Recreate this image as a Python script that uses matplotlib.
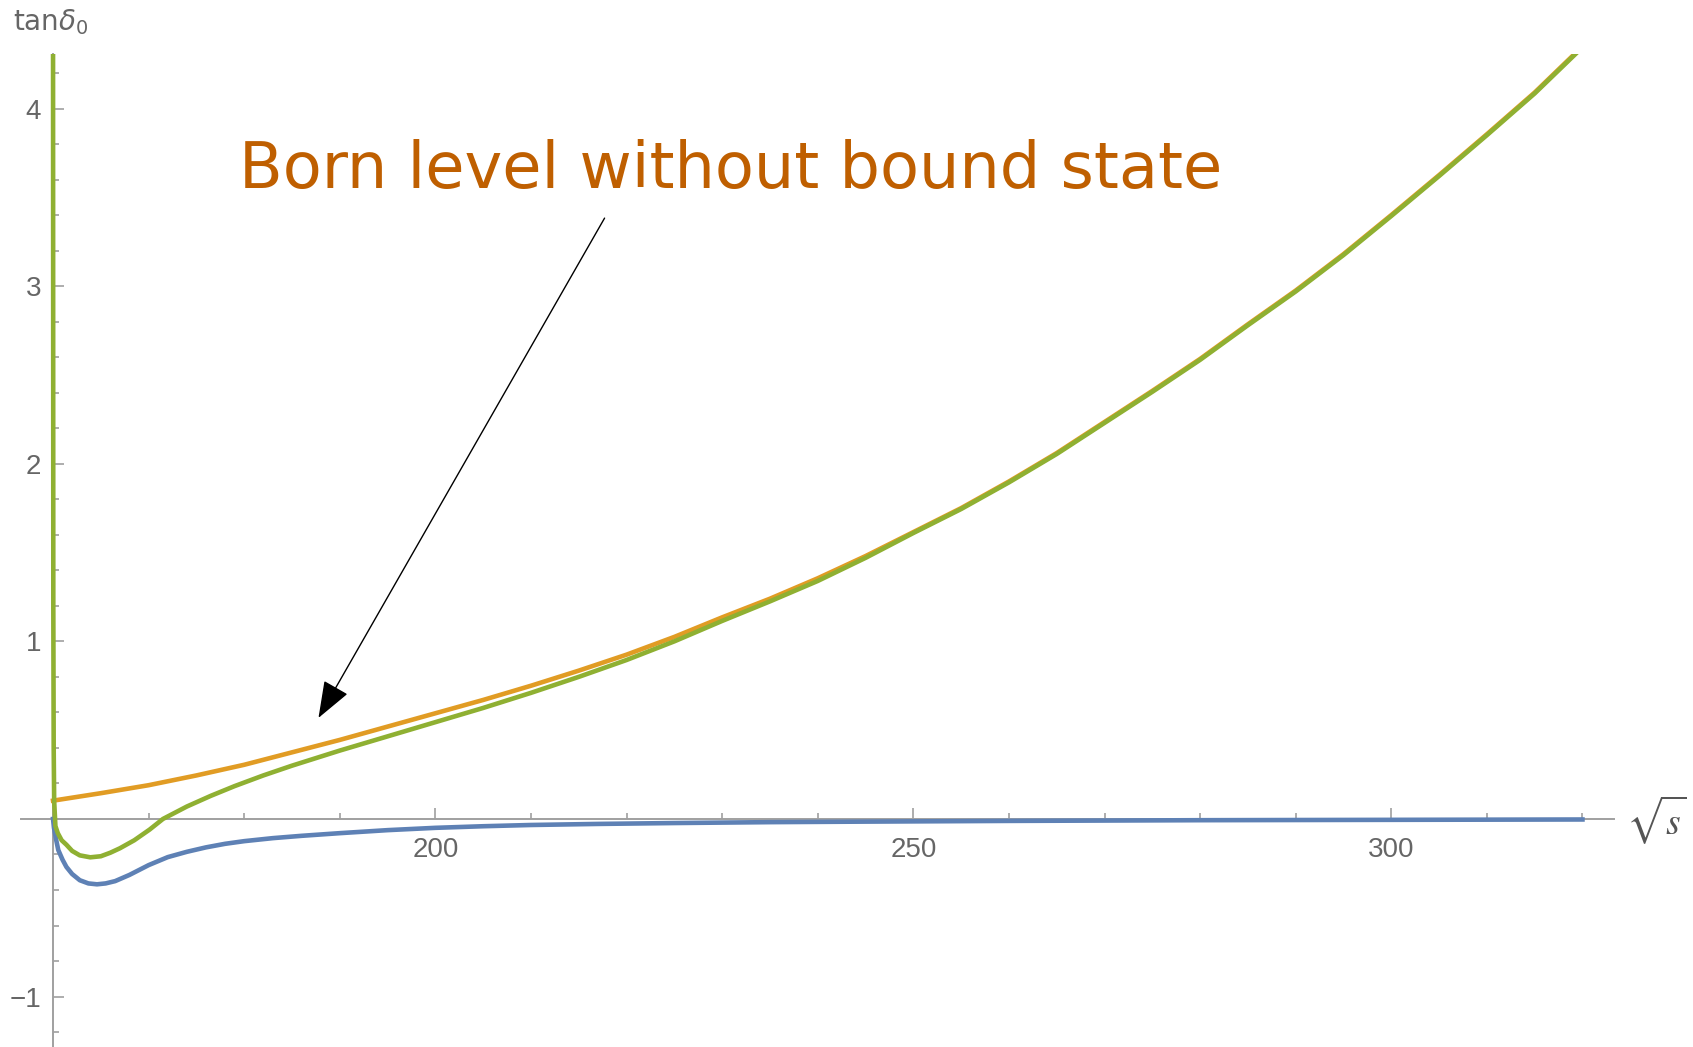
import matplotlib
matplotlib.use("Agg")
import matplotlib.pyplot as plt
from matplotlib.ticker import MultipleLocator, FixedLocator

plt.rcParams['mathtext.fontset'] = 'dejavusans'

# sqrt(s) vs tan(delta_0)
blue_x = [160.0, 160.1, 160.3, 160.55, 161.0, 161.4, 162.0, 162.8, 163.7, 164.6,
          165.5, 166.5, 168.0, 170.0, 172.0, 174.0, 176.0, 178.0, 180.0, 183.0,
          186.0, 190.0, 195.0, 200.0, 205.0, 210.0, 217.0, 225.0, 235.0, 245.0,
          260.0, 280.0, 300.0, 320.0]
blue_y = [0.0, -0.05, -0.11, -0.175, -0.23, -0.27, -0.31, -0.345, -0.363, -0.368,
          -0.363, -0.35, -0.315, -0.26, -0.215, -0.185, -0.16, -0.14, -0.125, -0.108,
          -0.095, -0.08, -0.063, -0.05, -0.041, -0.034, -0.028, -0.023, -0.018, -0.015,
          -0.011, -0.007, -0.005, -0.003]

orange_x = [160, 165, 170, 175, 180, 185, 190, 195, 200, 205, 210, 215, 220, 225,
            230, 235, 240, 245, 250, 255, 260, 265, 270, 275, 280, 285, 290, 295,
            300, 305, 310, 315, 320]
orange_y = [0.103, 0.145, 0.19, 0.245, 0.305, 0.375, 0.445, 0.52, 0.595, 0.67, 0.75,
            0.835, 0.925, 1.025, 1.135, 1.24, 1.355, 1.48, 1.615, 1.75, 1.90, 2.06,
            2.235, 2.41, 2.59, 2.785, 2.975, 3.18, 3.40, 3.625, 3.855, 4.09, 4.35]

green_x = [160.0, 160.03, 160.07, 160.12, 160.25, 160.5, 160.9, 161.4, 162.0, 162.8,
           163.9, 165.0, 166.0, 167.0, 168.5, 170.1, 171.5, 174.0, 176.5, 179.0,
           182.0, 185.0, 190.0, 195.0, 200.0, 205.0, 210.0, 215.0, 220.0, 225.0,
           230.0, 235.0, 240.0, 245.0, 250.0, 255.0, 260.0, 265.0, 270.0, 275.0,
           280.0, 285.0, 290.0, 295.0, 300.0, 305.0, 310.0, 315.0, 320.0]
green_y = [4.6, 1.2, 0.4, 0.1, -0.04, -0.08, -0.12, -0.145, -0.18, -0.205,
           -0.216, -0.21, -0.19, -0.165, -0.12, -0.06, 0.0, 0.07, 0.13, 0.185,
           0.245, 0.30, 0.385, 0.465, 0.545, 0.625, 0.71, 0.80, 0.895, 1.00,
           1.115, 1.225, 1.34, 1.47, 1.61, 1.745, 1.895, 2.055, 2.23, 2.405,
           2.585, 2.78, 2.97, 3.175, 3.395, 3.62, 3.85, 4.085, 4.345]

x_major = [200, 250, 300]
y_major = [-1, 1, 2, 3, 4]
note = "Born level without bound state"

W, H = 1693, 1047
fig = plt.figure(figsize=(W / 100, H / 100), dpi=100)
ax = fig.add_axes([21 / W, 0, (1614 - 21) / W, (1047 - 54) / H])
ax.set_xlim(156.65, 323.3)
ax.set_ylim(-1.284, 4.307)

axcol = '#a0a0a0'
for s in ['top', 'right']:
    ax.spines[s].set_visible(False)
ax.spines['left'].set_position(('data', 160))
ax.spines['bottom'].set_position(('data', 0))
for s in ['left', 'bottom']:
    ax.spines[s].set_color(axcol)
    ax.spines[s].set_linewidth(1.4)
ax.xaxis.set_ticks_position('bottom')
ax.yaxis.set_ticks_position('left')

ax.xaxis.set_major_locator(FixedLocator(x_major))
ax.xaxis.set_minor_locator(MultipleLocator(10))
ax.yaxis.set_major_locator(FixedLocator(y_major))
ax.yaxis.set_minor_locator(MultipleLocator(0.2))
ax.tick_params(which='both', direction='in', color=axcol, width=1.2,
               labelcolor='#666666', labelsize=20)
ax.tick_params(which='major', length=8)
ax.tick_params(which='minor', length=4.5)
ax.tick_params(axis='x', which='major', pad=13)
ax.tick_params(axis='y', which='major', pad=8.5)
for lab in ax.get_xticklabels() + ax.get_yticklabels():
    lab.set_fontfamily('Liberation Sans')

lw = 3.3
ax.plot(blue_x, blue_y, color='#5E81B5', lw=lw, zorder=3)
ax.plot(orange_x, orange_y, color='#E19C24', lw=lw, zorder=3)
ax.plot(green_x, green_y, color='#8FB032', lw=lw, zorder=3)

ax.text(179.5, 3.55, note, color='#BF5F00', fontsize=46, va='baseline',
        family='DejaVu Sans')
ax.annotate('', xy=(187.77, 0.569), xytext=(217.7, 3.383),
            arrowprops=dict(arrowstyle='-|>,head_length=0.4,head_width=0.15',
                            color='black', lw=1.0, mutation_scale=58,
                            shrinkA=0, shrinkB=0))

fig.text(13 / W, 1 - 30 / H, r'tan$\delta_0$', color='#666666', fontsize=20,
         va='baseline', ha='left')
fig.text(1656 / W, 1 - 820 / H, r'$\sqrt{s}$', color='#555555', fontsize=27,
         va='center', ha='center', math_fontfamily='stix')

fig.savefig('out.png', dpi=100)
